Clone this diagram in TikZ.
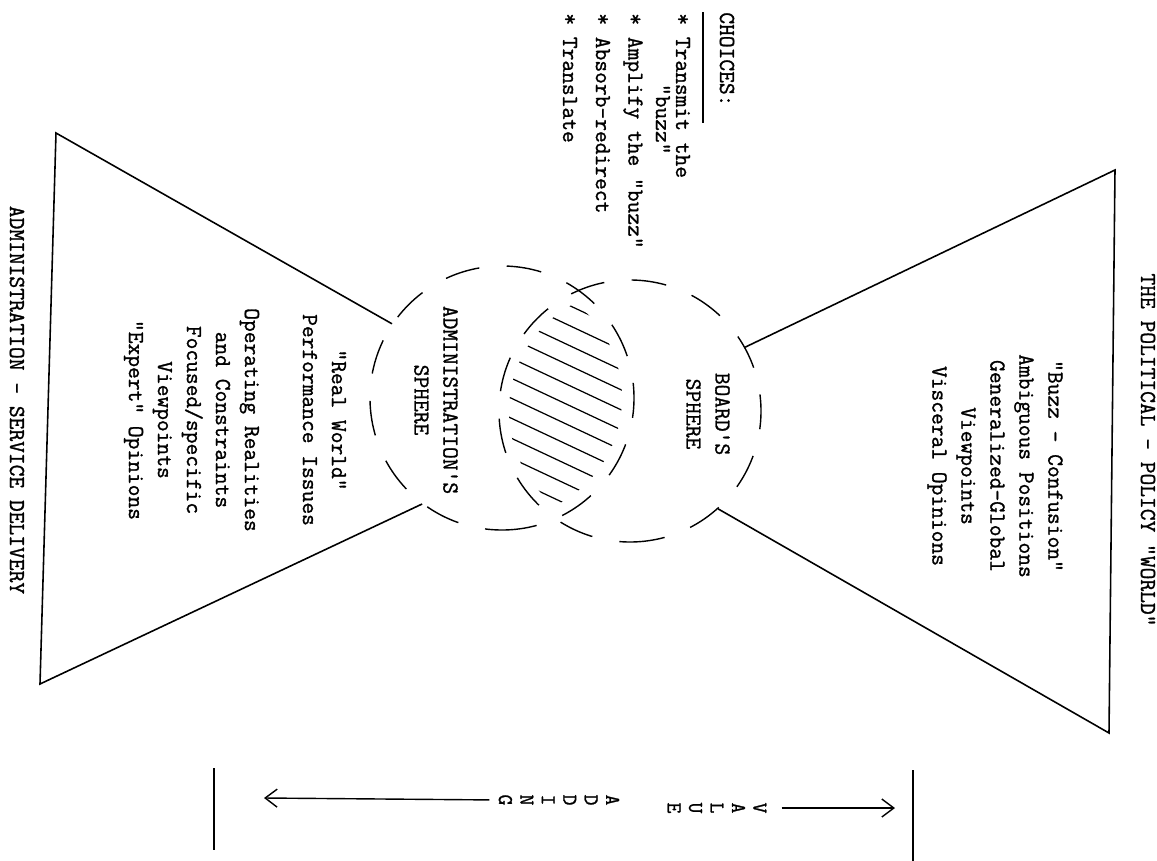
\documentclass[tikz,border=0pt]{standalone}
\usepackage{fontspec}
\newfontfamily\typewriter{Latin Modern Mono}[FakeBold=1.2]
\usetikzlibrary{arrows.meta}
\tikzset{
  typed/.style={font=\fontsize{13}{16.5}\selectfont\typewriter, inner sep=0pt},
  tblock/.style={typed, align=center},
  spell/.style={font=\fontsize{12}{12.2}\selectfont\typewriter, align=center, inner sep=0pt},
  spherering/.style={circle, draw, line width=0.8pt, dash pattern=on 0.7cm off 0.55cm,
                     minimum size=#1, inner sep=0pt},
  funnel/.style={line width=0.9pt, line join=miter},
  hatch/.style={line width=0.7pt},
  rule/.style={line width=0.8pt},
  endbar/.style={line width=1pt},
  vflow/.style={-{Straight Barb[length=2.4mm,width=3.6mm]}, line width=0.8pt},
}

\begin{document}
\begin{tikzpicture}[x=0.2mm, y=0.2mm, rotate=-90, transform shape]
\useasboundingbox (0,0) rectangle (861,1157);

% the two spheres and their overlap
\node[spherering=5.24cm] (board) at (411,630) {};
\node[spherering=5.28cm] (admin) at (398,502) {};
\node[tblock] (boardlbl) at (414,708) {BOARD'S\\SPHERE};
\node[tblock] (adminlbl) at (400,436) {ADMINISTRATION'S\\SPHERE};
\begin{scope}
  \clip (board.center) circle [radius=2.42cm];
  \clip (admin.center) circle [radius=2.4cm];
  \foreach \a in {160,180,...,500} \draw[hatch] (\a,430) -- ++(141,300);
\end{scope}

% political - policy world
\node[typed] (politicsttl) at (450,1148) {THE POLITICAL - POLICY "WORLD"};
\coordinate (polL) at (170,1115);
\coordinate (polR) at (733,1109);
\draw[funnel] (board.119) -- (polL) -- (polR) -- (board.42);
\node[tblock] (politics) at (466,995)
  {"Buzz - Confusion"\\Ambiguous Positions\\Generalized-Global\\Viewpoints\\Visceral Opinions};

% administration - service delivery
\node[typed] (servicettl) at (400,17) {ADMINISTRATION - SERVICE DELIVERY};
\coordinate (admL) at (133,56);
\coordinate (admR) at (684,40);
\draw[funnel] (admin.236) -- (admL) -- (admR) -- (admin.323);
\node[tblock] (service) at (420,235)
  {"Real World"\\Performance Issues\\[0.58cm]Operating Realities\\and Constraints\\
   Focused/specific\\Viewpoints\\"Expert" Opinions};

% choices
\node[typed, anchor=west] (choices) at (12,727) {CHOICES:};
\draw[rule] (12,703) -- (123,703);
\foreach \v/\t [count=\i] in {683/{* Transmit the}, 663/{\phantom{* Tran}"buzz"},
    633/{* Amplify the "buzz"}, 603/{* Absorb-redirect}, 570/{* Translate}}
  \node[typed, anchor=west] (choice\i) at (13,\v) {\t};

% value adding
\node[spell] (value) at (808,717) {V\\A\\L\\U\\E};
\node[spell] (adding) at (800,559) {A\\D\\D\\I\\N\\G};
\coordinate (topbarL) at (770,913);
\coordinate (topbarR) at (861,913);
\coordinate (botbarL) at (768,214);
\coordinate (botbarR) at (850,214);
\coordinate (valuetip) at (808,895);
\coordinate (addingtip) at (798,264);
\draw[endbar] (topbarL) -- (topbarR);
\draw[endbar] (botbarL) -- (botbarR);
\draw[vflow, shorten <=0.3cm] (value.north) -- (valuetip);
\draw[vflow, shorten <=0.18cm] (adding.south) -- (addingtip);
\end{tikzpicture}
\end{document}
